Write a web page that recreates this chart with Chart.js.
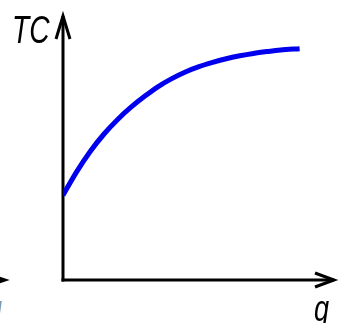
<!DOCTYPE html>
<html>
<head>
<meta charset="utf-8">
<script src="https://cdn.jsdelivr.net/npm/chart.js@4/dist/chart.umd.min.js"></script>
<style>
  html, body { margin: 0; padding: 0; background: #ffffff; }
  #wrap { width: 339px; height: 323px; position: relative; }
</style>
</head>
<body>
<div id="wrap"><canvas id="c"></canvas></div>
<script>
// Quantity (q) and total cost (TC) (arbitrary units)
const quantity  = [0, 0.5, 1, 1.5, 2, 2.5, 3, 3.5, 4, 4.5, 5, 5.5, 6, 6.5, 7, 7.5, 8, 8.7];
const totalCost = [3.2, 4.08, 4.85, 5.5, 6.05, 6.52, 6.93, 7.3, 7.6, 7.85, 8.05, 8.21, 8.35, 8.46, 8.55, 8.62, 8.68, 8.73];
const xLabel = 'q';
const yLabel = 'TC';

const axesPlugin = {
  id: 'axesPlugin',
  beforeDatasetsDraw(chart) {
    const ctx = chart.ctx;
    const a = chart.chartArea;
    ctx.save();
    ctx.strokeStyle = '#000';
    ctx.lineWidth = 3;
    ctx.lineCap = 'butt';
    ctx.lineJoin = 'miter';
    // y axis
    ctx.beginPath();
    ctx.moveTo(a.left, a.bottom + 1.5);
    ctx.lineTo(a.left, a.top + 1);
    ctx.stroke();
    // x axis
    ctx.beginPath();
    ctx.moveTo(a.left - 1.5, a.bottom);
    ctx.lineTo(a.right - 1, a.bottom);
    ctx.stroke();
    // y arrow head
    ctx.beginPath();
    ctx.moveTo(a.left - 7, a.top + 24);
    ctx.lineTo(a.left, a.top + 1);
    ctx.lineTo(a.left + 7, a.top + 24);
    ctx.stroke();
    // x arrow head
    ctx.beginPath();
    ctx.moveTo(a.right - 20, a.bottom - 7);
    ctx.lineTo(a.right - 1, a.bottom);
    ctx.lineTo(a.right - 20, a.bottom + 7);
    ctx.stroke();
    // fragment of a neighbouring arrow at the left edge
    ctx.beginPath();
    ctx.moveTo(-10, a.bottom - 5);
    ctx.lineTo(5, a.bottom);
    ctx.lineTo(-10, a.bottom + 5);
    ctx.stroke();
    ctx.restore();

    // labels
    ctx.save();
    ctx.fillStyle = '#000';
    ctx.textBaseline = 'alphabetic';
    ctx.font = 'italic 38px "Liberation Sans", Arial, sans-serif';
    ctx.translate(12, 43);
    ctx.scale(0.74, 1);
    ctx.fillText(yLabel, 0, 0);
    ctx.restore();

    ctx.save();
    ctx.fillStyle = '#000';
    ctx.font = 'italic 36px "Liberation Sans", Arial, sans-serif';
    ctx.translate(314, 321);
    ctx.scale(0.75, 1);
    ctx.fillText(xLabel, 0, 0);
    ctx.restore();

    ctx.save();
    ctx.fillStyle = '#7a9ab8';
    ctx.font = 'italic 36px "Liberation Sans", Arial, sans-serif';
    ctx.translate(-13, 321);
    ctx.scale(0.75, 1);
    ctx.fillText(xLabel, 0, 0);
    ctx.restore();
  }
};

new Chart(document.getElementById('c'), {
  type: 'line',
  data: {
    datasets: [{
      data: quantity.map((q, i) => ({ x: q, y: totalCost[i] })),
      borderColor: '#0000ee',
      borderWidth: 5,
      pointRadius: 0,
      fill: false,
      cubicInterpolationMode: 'monotone',
      borderCapStyle: 'butt'
    }]
  },
  options: {
    responsive: true,
    maintainAspectRatio: false,
    animation: false,
    layout: { padding: { left: 63, right: 4, top: 15, bottom: 43 } },
    scales: {
      x: { type: 'linear', min: 0, max: 10, display: false },
      y: { type: 'linear', min: 0, max: 10, display: false }
    },
    plugins: {
      legend: { display: false },
      tooltip: { enabled: false }
    }
  },
  plugins: [axesPlugin]
});
</script>
</body>
</html>
